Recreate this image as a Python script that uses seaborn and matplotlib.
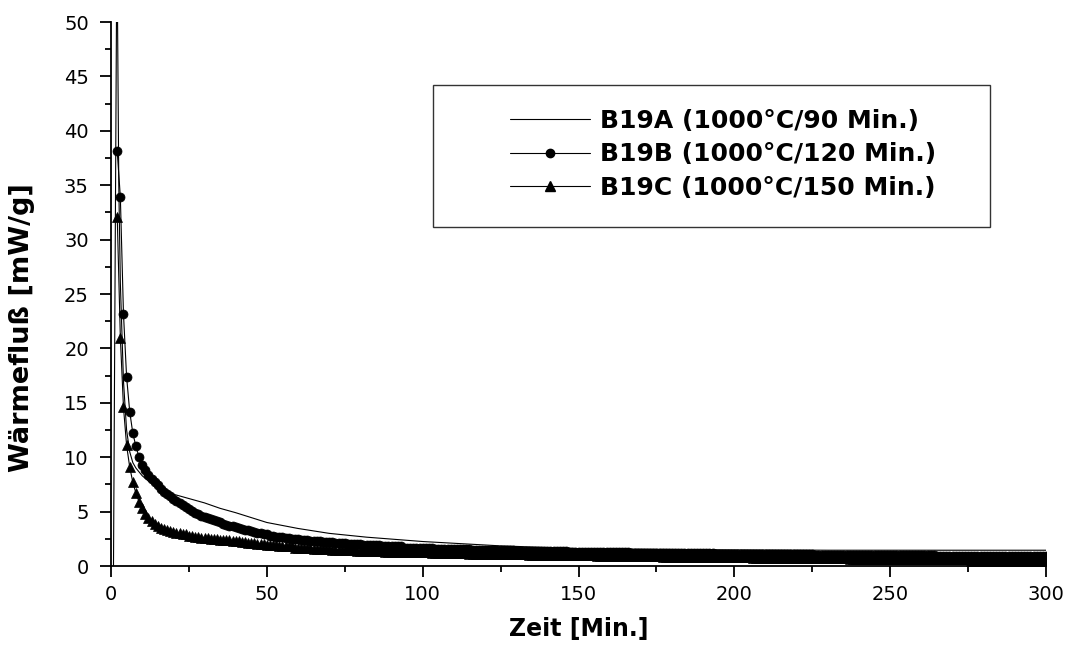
import numpy as np
import matplotlib
matplotlib.use("Agg")
import matplotlib.pyplot as plt
from matplotlib.lines import Line2D
from matplotlib.patches import Rectangle
from matplotlib.ticker import MultipleLocator
import seaborn as sns

# B19A: continuous trace, recorded without symbols
a_time = [0.8, 1.9, 2.5, 3, 4, 5, 6, 7, 8, 10, 12, 15, 17, 20, 25, 30, 35, 40,
          50, 60, 70, 82, 100, 125, 150, 190, 230, 270, 300]
a_flow = [0, 58, 35, 26, 17, 12.5, 10.5, 9.5, 9.0, 8.3, 7.8, 7.3, 6.9, 6.6, 6.2,
          5.8, 5.3, 4.9, 4.0, 3.45, 3.0, 2.65, 2.25, 1.85, 1.6, 1.5, 1.45, 1.45, 1.45]

# B19B / B19C: one reading per minute from minute 2 to minute 300
minutes = np.arange(2, 301)

b_flow = [
    38.1, 33.9, 23.2, 17.4, 14.2, 12.2, 11.0, 10.0, 9.3,
    8.8, 8.4, 8.0, 7.7, 7.4, 7.1, 6.8, 6.6, 6.4, 6.2,
    6.0, 5.8, 5.6, 5.4, 5.2, 5.1, 4.9, 4.8, 4.6, 4.5,
    4.4, 4.3, 4.2, 4.1, 4.0, 3.9, 3.8, 3.7, 3.7, 3.6,
    3.5, 3.4, 3.3, 3.3, 3.2, 3.1, 3.0, 3.0, 2.9, 2.9,
    2.8, 2.8, 2.7, 2.7, 2.7, 2.6, 2.6, 2.5, 2.5, 2.5,
    2.4, 2.4, 2.4, 2.3, 2.3, 2.3, 2.3, 2.2, 2.2, 2.2,
    2.2, 2.1, 2.1, 2.1, 2.1, 2.0, 2.0, 2.0, 2.0, 2.0,
    1.9, 1.9, 1.9, 1.9, 1.9, 1.9, 1.8, 1.8, 1.8, 1.8,
    1.8, 1.8, 1.8, 1.7, 1.7, 1.7, 1.7, 1.7, 1.7, 1.7,
    1.7, 1.7, 1.7, 1.6, 1.6, 1.6, 1.6, 1.6, 1.6, 1.6,
    1.6, 1.6, 1.6, 1.6, 1.6, 1.5, 1.5, 1.5, 1.5, 1.5,
    1.5, 1.5, 1.5, 1.5, 1.5, 1.5, 1.5, 1.5, 1.5, 1.4,
    1.4, 1.4, 1.4, 1.4, 1.4, 1.4, 1.4, 1.4, 1.4, 1.4,
    1.4, 1.4, 1.4, 1.4, 1.4, 1.4, 1.3, 1.3, 1.3, 1.3,
    1.3, 1.3, 1.3, 1.3, 1.3, 1.3, 1.3, 1.3, 1.3, 1.3,
    1.3, 1.3, 1.3, 1.3, 1.3, 1.3, 1.2, 1.2, 1.2, 1.2,
    1.2, 1.2, 1.2, 1.2, 1.2, 1.2, 1.2, 1.2, 1.2, 1.2,
    1.2, 1.2, 1.2, 1.2, 1.2, 1.2, 1.2, 1.2, 1.2, 1.2,
    1.2, 1.2, 1.2, 1.1, 1.1, 1.1, 1.1, 1.1, 1.1, 1.1,
    1.1, 1.1, 1.1, 1.1, 1.1, 1.1, 1.1, 1.1, 1.1, 1.1,
    1.1, 1.1, 1.1, 1.1, 1.1, 1.1, 1.1, 1.1, 1.1, 1.1,
    1.1, 1.1, 1.1, 1.1, 1.1, 1.0, 1.0, 1.0, 1.0, 1.0,
    1.0, 1.0, 1.0, 1.0, 1.0, 1.0, 1.0, 1.0, 1.0, 1.0,
    1.0, 1.0, 1.0, 1.0, 1.0, 1.0, 1.0, 1.0, 1.0, 1.0,
    1.0, 1.0, 1.0, 1.0, 1.0, 1.0, 1.0, 1.0, 1.0, 1.0,
    1.0, 1.0, 1.0, 1.0, 0.9, 0.9, 0.9, 0.9, 0.9, 0.9,
    0.9, 0.9, 0.9, 0.9, 0.9, 0.9, 0.9, 0.9, 0.9, 0.9,
    0.9, 0.9, 0.9, 0.9, 0.9, 0.9, 0.9, 0.9, 0.9, 0.9,
    0.9, 0.9, 0.9, 0.9, 0.9, 0.9, 0.9, 0.9, 0.9, 0.9,
]

c_flow = [
    32.1, 21.0, 14.6, 11.1, 9.1, 7.7, 6.7, 5.9, 5.3,
    4.8, 4.4, 4.1, 3.9, 3.7, 3.5, 3.4, 3.3, 3.2, 3.1,
    3.0, 3.0, 2.9, 2.9, 2.8, 2.8, 2.7, 2.7, 2.6, 2.6,
    2.6, 2.5, 2.5, 2.5, 2.4, 2.4, 2.4, 2.4, 2.3, 2.3,
    2.3, 2.2, 2.2, 2.1, 2.1, 2.1, 2.0, 2.0, 2.0, 1.9,
    1.9, 1.9, 1.9, 1.8, 1.8, 1.8, 1.8, 1.8, 1.7, 1.7,
    1.7, 1.7, 1.7, 1.7, 1.6, 1.6, 1.6, 1.6, 1.6, 1.6,
    1.5, 1.5, 1.5, 1.5, 1.5, 1.5, 1.5, 1.5, 1.4, 1.4,
    1.4, 1.4, 1.4, 1.4, 1.4, 1.4, 1.4, 1.3, 1.3, 1.3,
    1.3, 1.3, 1.3, 1.3, 1.3, 1.3, 1.3, 1.3, 1.3, 1.3,
    1.3, 1.3, 1.2, 1.2, 1.2, 1.2, 1.2, 1.2, 1.2, 1.2,
    1.2, 1.2, 1.2, 1.2, 1.1, 1.1, 1.1, 1.1, 1.1, 1.1,
    1.1, 1.1, 1.1, 1.1, 1.1, 1.1, 1.1, 1.1, 1.1, 1.1,
    1.1, 1.1, 1.1, 1.0, 1.0, 1.0, 1.0, 1.0, 1.0, 1.0,
    1.0, 1.0, 1.0, 1.0, 1.0, 1.0, 1.0, 1.0, 1.0, 1.0,
    1.0, 1.0, 1.0, 1.0, 1.0, 0.9, 0.9, 0.9, 0.9, 0.9,
    0.9, 0.9, 0.9, 0.9, 0.9, 0.9, 0.9, 0.9, 0.9, 0.9,
    0.9, 0.9, 0.9, 0.9, 0.9, 0.9, 0.8, 0.8, 0.8, 0.8,
    0.8, 0.8, 0.8, 0.8, 0.8, 0.8, 0.8, 0.8, 0.8, 0.8,
    0.8, 0.8, 0.8, 0.8, 0.8, 0.8, 0.8, 0.8, 0.8, 0.8,
    0.8, 0.8, 0.8, 0.8, 0.8, 0.7, 0.7, 0.7, 0.7, 0.7,
    0.7, 0.7, 0.7, 0.7, 0.7, 0.7, 0.7, 0.7, 0.7, 0.7,
    0.7, 0.7, 0.7, 0.7, 0.7, 0.7, 0.7, 0.7, 0.7, 0.7,
    0.7, 0.7, 0.7, 0.7, 0.7, 0.7, 0.6, 0.6, 0.6, 0.6,
    0.6, 0.6, 0.6, 0.6, 0.6, 0.6, 0.6, 0.6, 0.6, 0.6,
    0.6, 0.6, 0.6, 0.6, 0.6, 0.6, 0.6, 0.6, 0.6, 0.6,
    0.6, 0.6, 0.6, 0.6, 0.6, 0.6, 0.6, 0.6, 0.6, 0.6,
    0.6, 0.6, 0.6, 0.6, 0.6, 0.5, 0.5, 0.5, 0.5, 0.5,
    0.5, 0.5, 0.5, 0.5, 0.5, 0.5, 0.5, 0.5, 0.5, 0.5,
    0.5, 0.5, 0.5, 0.5, 0.5, 0.5, 0.5, 0.5, 0.5, 0.5,
]

series_labels = ["B19A (1000°C/90 Min.)",
                 "B19B (1000°C/120 Min.)",
                 "B19C (1000°C/150 Min.)"]

sns.set_style("ticks")
plt.rcParams["font.family"] = ["DejaVu Sans"]
plt.rcParams["text.color"] = "black"
plt.rcParams["axes.labelcolor"] = "black"

fig = plt.figure(figsize=(10.75, 6.55), dpi=100)
ax = fig.add_axes([111 / 1075, 89 / 655, 935 / 1075, 544 / 655])

line_kw = dict(color="black", linewidth=0.8, ax=ax, legend=False)
sns.lineplot(x=a_time, y=a_flow, **line_kw)
sns.lineplot(x=minutes, y=b_flow, marker="o", markersize=6.5,
             markeredgecolor="black", markeredgewidth=0.5, **line_kw)
sns.lineplot(x=minutes, y=c_flow, marker="^", markersize=7,
             markeredgecolor="black", markeredgewidth=0.5, **line_kw)

ax.set_xlim(0, 300)
ax.set_ylim(0, 50)
ax.xaxis.set_major_locator(MultipleLocator(50))
ax.xaxis.set_minor_locator(MultipleLocator(25))
ax.yaxis.set_major_locator(MultipleLocator(5))
ax.yaxis.set_minor_locator(MultipleLocator(2.5))

sns.despine(ax=ax)
for side in ("left", "bottom"):
    ax.spines[side].set_linewidth(1.3)
    ax.spines[side].set_color("black")

ax.tick_params(which="major", direction="out", length=8, width=1.3,
               color="black", labelcolor="black", labelsize=14)
ax.tick_params(axis="x", which="major", pad=6)
ax.tick_params(axis="y", which="major", pad=8)
ax.tick_params(which="minor", direction="out", length=4, width=1.3, color="black")

ax.set_xlabel("Zeit [Min.]", fontsize=17, fontweight="bold")
ax.set_ylabel("Wärmefluß [mW/g]", fontsize=19.5, fontweight="bold")
ax.xaxis.set_label_coords(0.5, -0.093)
ax.yaxis.set_label_coords(-0.081, 0.438)

# Legend: symbol samples plus labels inside a plain rectangular frame
handles = [
    Line2D([], [], color="black", linewidth=0.8),
    Line2D([], [], color="black", linewidth=0.8, marker="o", markersize=6),
    Line2D([], [], color="black", linewidth=0.8, marker="^", markersize=6.5),
]
fig.legend(handles, series_labels, loc="upper left",
           bbox_to_anchor=(510 / 1075, 1 - 109 / 655),
           frameon=False, borderpad=0, borderaxespad=0,
           handlelength=3.2, handletextpad=0.4, labelspacing=0.38,
           prop=dict(size=18, weight="bold"))
fig.patches.append(Rectangle((433 / 1075, 1 - 227 / 655), 557 / 1075, 142 / 655,
                             transform=fig.transFigure, fill=False,
                             edgecolor="#333333", linewidth=1.0))

fig.savefig("out.png", dpi=100)
